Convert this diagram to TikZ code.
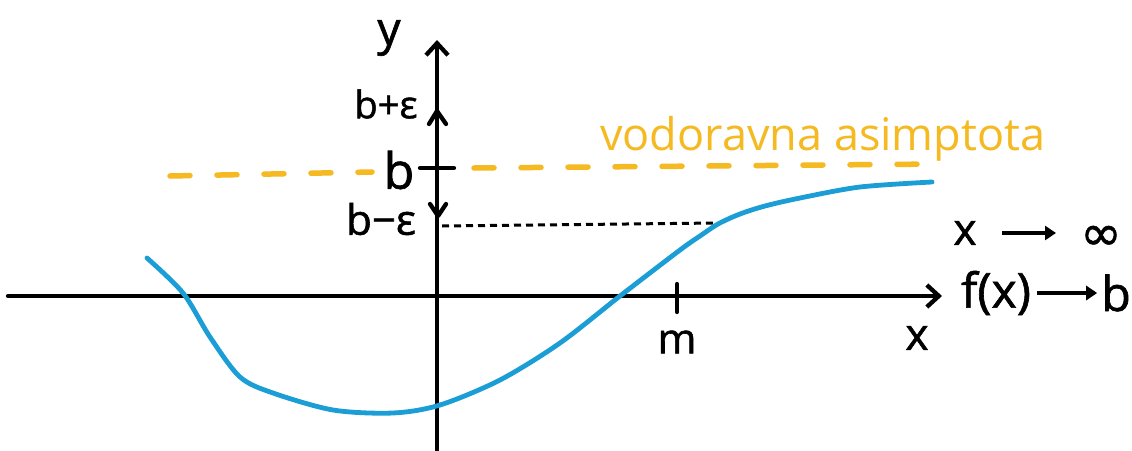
\documentclass[tikz,border=0pt]{standalone}
\usepackage{fontspec}
\setmainfont{Open Sans}
\newfontfamily\lblfont{Open Sans}[FakeBold=1.3]
\newfontfamily\symfont{DejaVu Sans}[FakeBold=1]
\usetikzlibrary{arrows.meta}
\definecolor{asy}{HTML}{F5B921}
\definecolor{crv}{HTML}{1B9DD6}
\begin{document}
\begin{tikzpicture}[x=1pt,y=-1pt,
  axis/.style={line width=4.3pt, black, line cap=round, line join=round},
  axarrow/.style={-{Straight Barb[length=12pt,width=22pt]}},
  lbl/.style={inner sep=0pt},
  asydash/.style={asy, line width=5.5pt, line cap=round, dash pattern=on 20pt off 27pt},
  crvline/.style={crv, line width=4.8pt, line cap=round},
  dotline/.style={black, line width=3pt, dash pattern=on 7pt off 5pt},
  smallarrow/.style={line width=4pt, -{Triangle[length=11pt,width=14pt]}}]
\useasboundingbox (0,0) rectangle (1132,450);
% axes
\coordinate (xl) at (8,296);
\coordinate (xr) at (942,296);
\coordinate (yb) at (437,452);
\coordinate (yt) at (437,40);
\draw[axis, axarrow] (xl) -- (xr);
\draw[axis, axarrow] (yb) -- (yt);
% asymptote
\draw[asydash] (170,176) -- (372,172);
\draw[asydash] (474,168) -- (940,164);
\node[lbl, anchor=base west, text=asy, font=\fontsize{45}{45}\selectfont] (asylbl) at (600,150) {vodoravna asimptota};
% ticks on y axis
\draw[axis] (429,124) -- (437,111) -- (446,124);
\draw[axis] (420,168) -- (454,168);
\draw[axis] (430,204) -- (438,216) -- (446,204);
% dotted line
\coordinate (be) at (442,226);
\coordinate (pm) at (718,223);
\draw[dotline] (be) -- (pm);
% curve
\draw[crvline] plot[smooth, tension=0.5] coordinates {(147,258) (183,293) (210,337) (240,377) (273,393) (333,410) (393,413) (440,405) (500,380) (560,343) (620,296) (680,250) (700,236) (718,224) (740,214) (765,206) (800,198) (860,187) (932,182)};
% m tick
\coordinate (mt) at (677,284);
\coordinate (mb) at (677,312);
\draw[axis] (mt) -- (mb);
% labels
\node[lbl, font=\fontsize{46}{46}\lblfont] (ylbl) at (389,38) {y};
\node[lbl, font=\fontsize{38}{38}\lblfont] (bpe) at (386,104) {b+ε};
\node[lbl, font=\fontsize{50}{50}\lblfont] (blbl) at (399,170) {b};
\node[lbl, font=\fontsize{42}{42}\lblfont] (bme) at (381,219) {b−ε};
\node[lbl, font=\fontsize{42}{42}\lblfont] (mlbl) at (677,342) {m};
\node[lbl, font=\fontsize{44}{44}\lblfont] (xlbl) at (917,338) {x};
% limits
\node[lbl, font=\fontsize{44}{44}\lblfont] (xx) at (965,233) {x};
\node[lbl, font=\fontsize{50}{50}\symfont] (inf) at (1101,238) {∞};
\draw[smallarrow] (1002,233) coordinate (a1) -- (1056,233) coordinate (a2);
\node[lbl, font=\fontsize{48}{48}\lblfont] (fx) at (996,293) {f(x)};
\node[lbl, font=\fontsize{48}{48}\lblfont, anchor=east] (bb) at (1131,293) {b};
\draw[smallarrow] (fx.east) ++(6,0) -- ([xshift=-4pt]bb.west);
\end{tikzpicture}
\end{document}
